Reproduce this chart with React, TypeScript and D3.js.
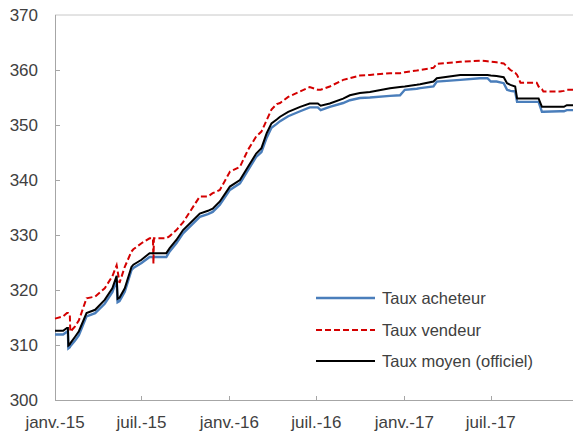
import React from "react";
import * as d3 from "d3";

const dates: string[] = [
  "2015-01-01","2015-01-18","2015-01-26","2015-01-28","2015-01-29","2015-02-01","2015-02-02","2015-02-12",
  "2015-02-20","2015-03-08","2015-03-26","2015-04-15","2015-05-01","2015-05-10","2015-05-12","2015-05-16",
  "2015-05-27","2015-06-10","2015-06-14","2015-07-01","2015-07-18","2015-07-25","2015-07-26","2015-07-27",
  "2015-08-22","2015-08-29","2015-09-12","2015-09-26","2015-10-31","2015-11-17","2015-11-27","2015-12-12",
  "2016-01-02","2016-01-23","2016-02-09","2016-02-26","2016-03-08","2016-03-19","2016-03-29","2016-04-09",
  "2016-04-16","2016-05-03","2016-05-28","2016-06-17","2016-07-04","2016-07-10","2016-07-29","2016-08-26",
  "2016-09-09","2016-09-30","2016-10-21","2016-12-02","2016-12-23","2017-01-02","2017-01-27","2017-02-03",
  "2017-03-03","2017-03-10","2017-04-28","2017-06-08","2017-06-24","2017-07-01","2017-07-13","2017-07-28",
  "2017-08-04","2017-08-11","2017-08-21","2017-08-25","2017-09-01","2017-10-05","2017-10-09","2017-10-16",
  "2017-10-19","2017-11-23","2017-12-01","2017-12-07","2017-12-20",
];

const tauxAcheteur: number[] = [
  311.9,311.9,312.4,312.4,309.4,309.6,309.8,310.8,
  311.8,315.2,315.8,317.5,319.6,321.8,317.8,318.0,
  319.7,323.6,324.0,324.9,326.0,326.0,326.0,326.0,
  326.0,327.0,328.5,330.3,333.3,333.8,334.2,335.5,
  338.2,339.4,341.8,344.2,345.1,347.7,349.5,350.2,
  350.7,351.6,352.5,353.2,353.2,352.7,353.3,354.0,
  354.5,354.9,355.0,355.3,355.4,356.4,356.6,356.7,
  357.0,357.9,358.2,358.5,358.5,357.9,357.9,357.6,
  356.4,356.2,356.1,354.2,354.2,354.2,354.2,352.4,
  352.4,352.5,352.5,352.7,352.7,
];

const tauxMoyen: number[] = [
  312.6,312.6,313.1,313.1,309.9,310.1,310.3,311.5,
  312.5,315.8,316.4,318.2,320.3,322.6,318.4,318.6,
  320.3,324.2,324.6,325.5,326.7,326.7,326.7,326.7,
  326.7,327.6,329.1,330.9,333.9,334.4,334.8,336.1,
  338.8,340.0,342.4,344.8,345.8,348.5,350.3,351.0,
  351.5,352.4,353.3,353.9,353.9,353.5,353.9,354.8,
  355.4,355.8,356.0,356.7,356.9,357.0,357.3,357.4,
  357.9,358.5,359.1,359.1,359.1,359.0,358.9,358.7,
  357.6,357.3,357.0,354.8,354.8,354.8,354.8,353.3,
  353.3,353.3,353.3,353.6,353.6,
];

const tauxVendeur: number[] = [
  314.8,315.2,315.8,315.8,315.8,315.6,312.4,313.4,
  314.5,318.5,318.8,320.3,322.5,324.5,323.5,321.3,
  324.2,327.0,327.4,328.5,329.4,329.4,324.8,329.4,
  329.4,329.8,330.9,332.3,337.0,337.0,337.6,338.2,
  341.5,342.4,345.5,347.9,348.8,350.9,352.8,353.8,
  354.0,355.1,356.1,356.9,356.4,356.4,357.0,358.2,
  358.5,359.0,359.1,359.4,359.4,359.6,359.9,360.0,
  360.4,361.1,361.5,361.7,361.6,361.5,361.4,361.2,
  360.6,360.0,359.5,359.1,357.7,357.7,357.0,356.5,
  356.1,356.1,356.2,356.4,356.4,
];

const yTicks: number[] = [300, 310, 320, 330, 340, 350, 360, 370];
const xTickDates: string[] = ["2015-01-01","2015-07-01","2016-01-01","2016-07-01","2017-01-01","2017-07-01"];
const xTickLabels: string[] = ["janv.-15","juil.-15","janv.-16","juil.-16","janv.-17","juil.-17"];
const legendLabels: string[] = ["Taux acheteur","Taux vendeur","Taux moyen (officiel)"];

const W = 573, H = 439;
const left = 55, right = 573, top = 15, bottom = 400;
const FONT = "'Liberation Sans', Arial, sans-serif";

export default function App() {
  const parse = d3.timeParse("%Y-%m-%d");
  const x = d3.scaleTime()
    .domain([parse("2015-01-01")!, parse("2017-12-20")!])
    .range([left, right]);
  const y = d3.scaleLinear().domain([300, 370]).range([bottom, top]);

  const mk = (vals: number[]) =>
    d3.line<number>()
      .x((_, i) => x(parse(dates[i])!))
      .y((v) => y(v))
      .curve(d3.curveLinear)(vals) || "";

  const series = [
    { name: legendLabels[0], vals: tauxAcheteur, color: "#4a7ebb", width: 2.4, dash: undefined as string | undefined },
    { name: legendLabels[1], vals: tauxVendeur, color: "#d40000", width: 2, dash: "6,3" },
    { name: legendLabels[2], vals: tauxMoyen, color: "#000000", width: 2, dash: undefined },
  ];

  const axisColor = "#a6a6a6";
  const textColor = "#404040";
  const legendY = [298, 330, 361];

  return (
    <div style={{ position: "fixed", left: 0, top: 0, width: W, height: H, background: "#fff" }}>
      <svg width={W} height={H} style={{ display: "block" }}>
        <rect x={0} y={0} width={W} height={H} fill="#ffffff" />
        {/* top border */}
        <line x1={left} x2={right} y1={y(370)} y2={y(370)} stroke="#c8c8c8" strokeWidth={1} />
        {/* y axis */}
        <line x1={left + 0.5} x2={left + 0.5} y1={top} y2={bottom} stroke={axisColor} strokeWidth={1} />
        {yTicks.map((t) => (
          <g key={t}>
            {t > 300 && t < 370 && (
              <line x1={left} x2={left + 5} y1={Math.round(y(t)) + 0.5} y2={Math.round(y(t)) + 0.5} stroke={axisColor} />
            )}
            <text x={38} y={y(t)} dy="0.36em" textAnchor="end" fontFamily={FONT} fontSize={17} fill={textColor}>
              {t}
            </text>
          </g>
        ))}
        {/* x axis */}
        <line x1={left} x2={right} y1={bottom + 0.5} y2={bottom + 0.5} stroke={axisColor} strokeWidth={1} />
        {xTickDates.map((d, i) => {
          const xx = x(parse(d)!);
          return (
            <g key={d}>
              {i > 0 && (
                <line x1={Math.round(xx) + 0.5} x2={Math.round(xx) + 0.5} y1={bottom} y2={bottom - 4} stroke={axisColor} />
              )}
              <text x={xx} y={428} textAnchor="middle" fontFamily={FONT} fontSize={17} fill={textColor}>
                {xTickLabels[i]}
              </text>
            </g>
          );
        })}
        {/* series */}
        {series.map((s) => (
          <path key={s.name} d={mk(s.vals)} fill="none" stroke={s.color} strokeWidth={s.width}
            strokeDasharray={s.dash} strokeLinejoin="miter" />
        ))}
        {/* legend */}
        {series.map((s, i) => (
          <g key={"lg" + s.name}>
            <line x1={316} x2={375} y1={legendY[i]} y2={legendY[i]} stroke={s.color} strokeWidth={s.width} strokeDasharray={s.dash} />
            <text x={382} y={legendY[i]} dy="0.36em" fontFamily={FONT} fontSize={16.5} fill={textColor}>
              {s.name}
            </text>
          </g>
        ))}
      </svg>
    </div>
  );
}
